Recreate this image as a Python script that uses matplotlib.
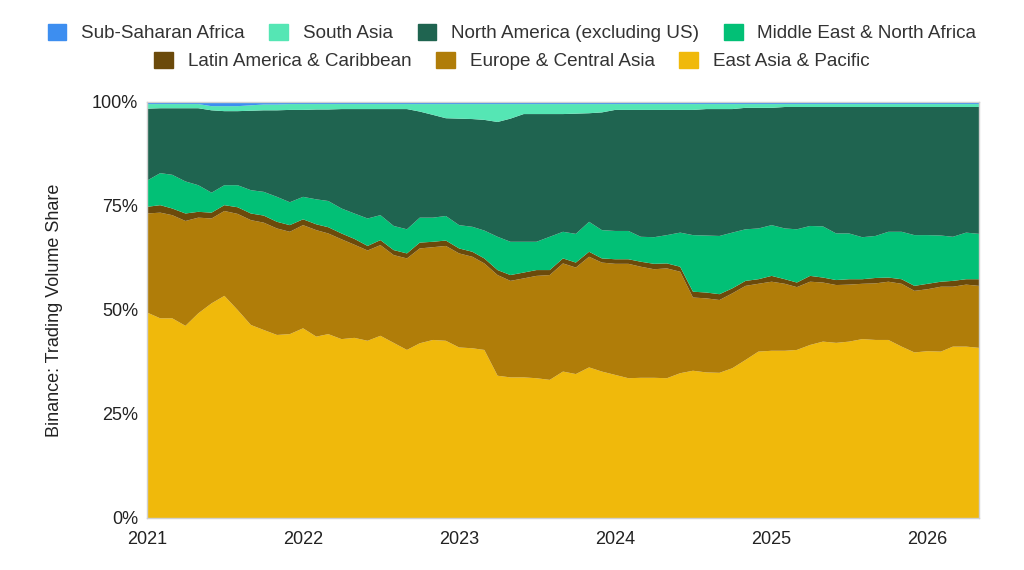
import matplotlib
matplotlib.use("Agg")
import matplotlib.pyplot as plt
import matplotlib.dates as mdates
from matplotlib.patches import Patch
import pandas as pd

plt.rcParams['font.family'] = ['Liberation Sans', 'DejaVu Sans']

dates = pd.date_range('2021-01-01', periods=65, freq='MS')

east_asia = [49.4, 48.0, 48.0, 46.2, 49.2, 51.6, 53.4, 50.0, 46.4, 45.2, 44.0, 44.2, 45.6, 43.6, 44.2, 43.0,
             43.3, 42.6, 43.8, 42.1, 40.4, 42.0, 42.8, 42.6, 41.0, 40.8, 40.4, 34.2, 33.8, 33.8, 33.6, 33.2,
             35.2, 34.6, 36.2, 35.2, 34.4, 33.6, 33.7, 33.7, 33.6, 34.8, 35.4, 35.0, 34.9, 36.0, 38.0, 40.0,
             40.2, 40.2, 40.4, 41.6, 42.4, 42.1, 42.4, 43.0, 42.8, 42.8, 41.2, 39.8, 40.1, 40.0, 41.2, 41.2, 40.9]
europe = [23.8, 25.4, 24.8, 25.2, 23.0, 20.4, 20.4, 23.1, 25.2, 25.8, 25.6, 24.6, 24.8, 25.6, 24.2, 24.0,
          22.4, 21.7, 21.8, 21.1, 22.0, 22.8, 22.3, 22.8, 22.6, 22.0, 20.8, 24.2, 23.2, 23.8, 24.6, 25.2,
          26.0, 25.6, 26.6, 26.2, 26.7, 27.5, 26.7, 26.1, 26.4, 24.4, 17.6, 17.8, 17.5, 18.0, 17.8, 16.3,
          16.6, 16.1, 15.1, 15.2, 14.2, 13.9, 13.7, 13.3, 13.6, 14.0, 15.1, 14.8, 14.9, 15.6, 14.4, 14.9, 14.9]
latin_america = [1.6, 1.8, 1.6, 1.8, 1.4, 1.4, 1.4, 1.6, 1.6, 1.7, 1.6, 1.6, 1.4, 1.4, 1.5, 1.4,
                 1.4, 1.1, 1.2, 1.2, 1.2, 1.4, 1.3, 1.3, 1.2, 1.2, 1.2, 1.2, 1.4, 1.4, 1.4, 1.2,
                 1.2, 1.2, 1.2, 1.0, 1.1, 1.1, 1.2, 1.3, 1.2, 1.2, 1.4, 1.4, 1.4, 1.2, 1.2, 1.1,
                 1.4, 1.1, 1.1, 1.4, 1.2, 1.2, 1.3, 1.1, 1.3, 1.0, 1.1, 1.2, 1.3, 1.2, 1.4, 1.3, 1.6]
middle_east = [6.3, 7.7, 8.1, 7.7, 6.4, 4.8, 4.8, 5.3, 5.6, 5.7, 6.0, 5.5, 5.4, 6.0, 6.3, 6.0,
               6.1, 6.6, 6.0, 5.8, 5.8, 6.0, 5.8, 5.9, 5.6, 6.0, 6.7, 8.0, 8.0, 7.4, 6.8, 8.0,
               6.4, 6.9, 7.2, 6.8, 6.8, 6.8, 6.0, 6.4, 6.8, 8.2, 13.6, 13.7, 14.0, 13.4, 12.4, 12.2,
               12.2, 12.2, 12.8, 12.0, 12.3, 11.2, 11.0, 10.1, 10.1, 11.0, 11.4, 12.2, 11.7, 11.1, 10.6, 11.2, 10.9]
north_america = [17.3, 15.6, 16.0, 17.6, 18.5, 19.8, 17.8, 17.8, 19.1, 19.6, 20.8, 22.2, 20.9, 21.6, 22.0, 23.9,
                 25.1, 26.3, 25.5, 28.1, 28.9, 25.5, 24.7, 23.5, 25.6, 25.9, 26.6, 27.6, 29.6, 30.7, 30.7, 29.5,
                 28.3, 28.9, 26.1, 28.3, 29.1, 29.1, 30.5, 30.6, 30.1, 29.5, 30.1, 30.4, 30.5, 29.7, 29.2, 29.0,
                 28.2, 29.2, 29.4, 28.6, 28.7, 30.4, 30.4, 31.3, 31.0, 30.0, 30.0, 30.8, 30.8, 30.9, 31.2, 30.2, 30.5]
south_asia = [1.1, 1.0, 1.0, 1.0, 1.0, 1.0, 1.2, 1.2, 1.3, 1.4, 1.4, 1.4, 1.4, 1.3, 1.3, 1.2,
              1.2, 1.2, 1.2, 1.2, 1.2, 1.8, 2.6, 3.4, 3.5, 3.6, 3.8, 4.3, 3.5, 2.4, 2.4, 2.4,
              2.4, 2.3, 2.2, 2.0, 1.4, 1.4, 1.4, 1.4, 1.4, 1.4, 1.4, 1.2, 1.2, 1.2, 0.9, 0.9,
              0.9, 0.7, 0.7, 0.7, 0.7, 0.7, 0.7, 0.7, 0.7, 0.7, 0.7, 0.7, 0.7, 0.7, 0.7, 0.7, 0.7]
sub_saharan = [0.5, 0.5, 0.5, 0.5, 0.5, 1.0, 1.0, 1.0, 0.8, 0.6, 0.6, 0.5, 0.5, 0.5, 0.5, 0.5,
               0.5, 0.5, 0.5, 0.5, 0.5, 0.5, 0.5, 0.5, 0.5, 0.5, 0.5, 0.5, 0.5, 0.5, 0.5, 0.5,
               0.5, 0.5, 0.5, 0.5, 0.5, 0.5, 0.5, 0.5, 0.5, 0.5, 0.5, 0.5, 0.5, 0.5, 0.5, 0.5,
               0.5, 0.5, 0.5, 0.5, 0.5, 0.5, 0.5, 0.5, 0.5, 0.5, 0.5, 0.5, 0.5, 0.5, 0.5, 0.5, 0.5]

series_names = ['East Asia & Pacific', 'Europe & Central Asia', 'Latin America & Caribbean',
                'Middle East & North Africa', 'North America (excluding US)', 'South Asia',
                'Sub-Saharan Africa']
colors = ['#F0B90B', '#B07D09', '#6B4A0B', '#02C076', '#1F6450', '#55E6B4', '#3D8EF0']
y_ticks = [0, 25, 50, 75, 100]
y_tick_labels = ['0%', '25%', '50%', '75%', '100%']

fig = plt.figure(figsize=(10.24, 5.70), dpi=100)
ax = fig.add_axes([147/1024, 1 - 518/570, (979 - 147)/1024, (518 - 102)/570])

ax.stackplot(dates, east_asia, europe, latin_america, middle_east, north_america,
             south_asia, sub_saharan, colors=colors, linewidth=0)

ax.set_xlim(dates[0], dates[-1])
ax.set_ylim(0, 100)
ax.set_yticks(y_ticks)
ax.set_yticklabels(y_tick_labels)
ax.xaxis.set_major_locator(mdates.YearLocator())
ax.xaxis.set_major_formatter(mdates.DateFormatter('%Y'))
ax.tick_params(axis='both', length=0, labelsize=13, colors='#222222')
ax.tick_params(axis='x', pad=9)
ax.tick_params(axis='y', pad=6.5)
for s in ax.spines.values():
    s.set_color('#d0d0d0')
    s.set_linewidth(1.0)
ax.set_ylabel('Binance: Trading Volume Share', fontsize=13, color='#222222', labelpad=21)

def handles(idx):
    return [Patch(facecolor=colors[i], edgecolor=colors[i], label=series_names[i]) for i in idx]

leg_kw = dict(frameon=False, fontsize=13.6, handlelength=1.0, handleheight=1.0,
              handletextpad=0.78, columnspacing=1.3, labelcolor='#333333', borderaxespad=0)
leg1 = fig.legend(handles=handles([6, 5, 4, 3]), ncol=4, loc='center',
                  bbox_to_anchor=(0.5, 1 - 33/570), **leg_kw)
leg2 = fig.legend(handles=handles([2, 1, 0]), ncol=3, loc='center',
                  bbox_to_anchor=(0.5, 1 - 61/570), **leg_kw)

fig.savefig('out.png', dpi=100)
